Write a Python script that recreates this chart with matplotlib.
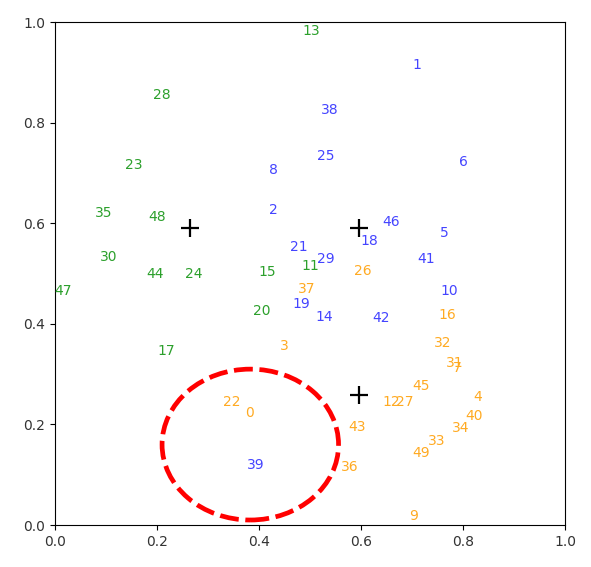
import matplotlib
matplotlib.use("Agg")
import matplotlib.pyplot as plt
from matplotlib.patches import Ellipse
import numpy as np

# label positions (x, y) for points 0..49
xs = [0.382, 0.709, 0.428, 0.449, 0.829, 0.764, 0.800, 0.789, 0.429, 0.704,
      0.773, 0.500, 0.660, 0.503, 0.527, 0.416, 0.770, 0.218, 0.616, 0.483,
      0.406, 0.478, 0.346, 0.154, 0.272, 0.531, 0.603, 0.686, 0.209, 0.531,
      0.106, 0.783, 0.760, 0.748, 0.796, 0.096, 0.578, 0.493, 0.539, 0.393,
      0.822, 0.727, 0.639, 0.593, 0.197, 0.717, 0.660, 0.016, 0.200, 0.717]
ys = [0.223, 0.915, 0.626, 0.356, 0.254, 0.580, 0.721, 0.312, 0.706, 0.018,
      0.466, 0.516, 0.244, 0.982, 0.414, 0.504, 0.418, 0.347, 0.565, 0.439,
      0.425, 0.552, 0.244, 0.715, 0.500, 0.734, 0.506, 0.244, 0.856, 0.528,
      0.533, 0.322, 0.362, 0.168, 0.192, 0.620, 0.115, 0.469, 0.825, 0.119,
      0.217, 0.528, 0.411, 0.195, 0.499, 0.276, 0.602, 0.466, 0.613, 0.144]
# cluster assignment: 0 = green, 1 = blue, 2 = orange
labels = [2, 1, 1, 2, 2, 1, 1, 2, 1, 2,
          1, 0, 2, 0, 1, 0, 2, 0, 1, 1,
          0, 1, 2, 0, 0, 1, 2, 2, 0, 1,
          0, 2, 2, 2, 2, 0, 2, 2, 1, 1,
          2, 1, 1, 2, 0, 2, 1, 0, 0, 2]
colors = ["#2ca02c", "#4444ff", "#ffaa22"]

# cluster centres
cx = [0.265, 0.596, 0.596]
cy = [0.590, 0.590, 0.258]

fig, ax = plt.subplots(figsize=(5.91, 5.67), dpi=100)
fig.subplots_adjust(left=0.093, right=0.956, top=0.961, bottom=0.074)

for i in range(len(xs)):
    ax.text(xs[i], ys[i], str(i), color=colors[labels[i]], fontsize=10,
            ha="center", va="center")

ax.plot(cx, cy, "+", color="black", markersize=13, markeredgewidth=1.6)

# circle around the outlier
ax.add_patch(Ellipse((0.383, 0.160), 0.346, 0.300, fill=False,
                     edgecolor="red", linewidth=3.4,
                     linestyle=(0, (4.0, 1.4))))

ax.set_xlim(0, 1)
ax.set_ylim(0, 1)
ax.set_xticks(np.arange(0, 1.01, 0.2))
ax.set_yticks(np.arange(0, 1.01, 0.2))
ax.tick_params(labelsize=10, labelcolor="#333333")

fig.savefig("out.png", dpi=100)
